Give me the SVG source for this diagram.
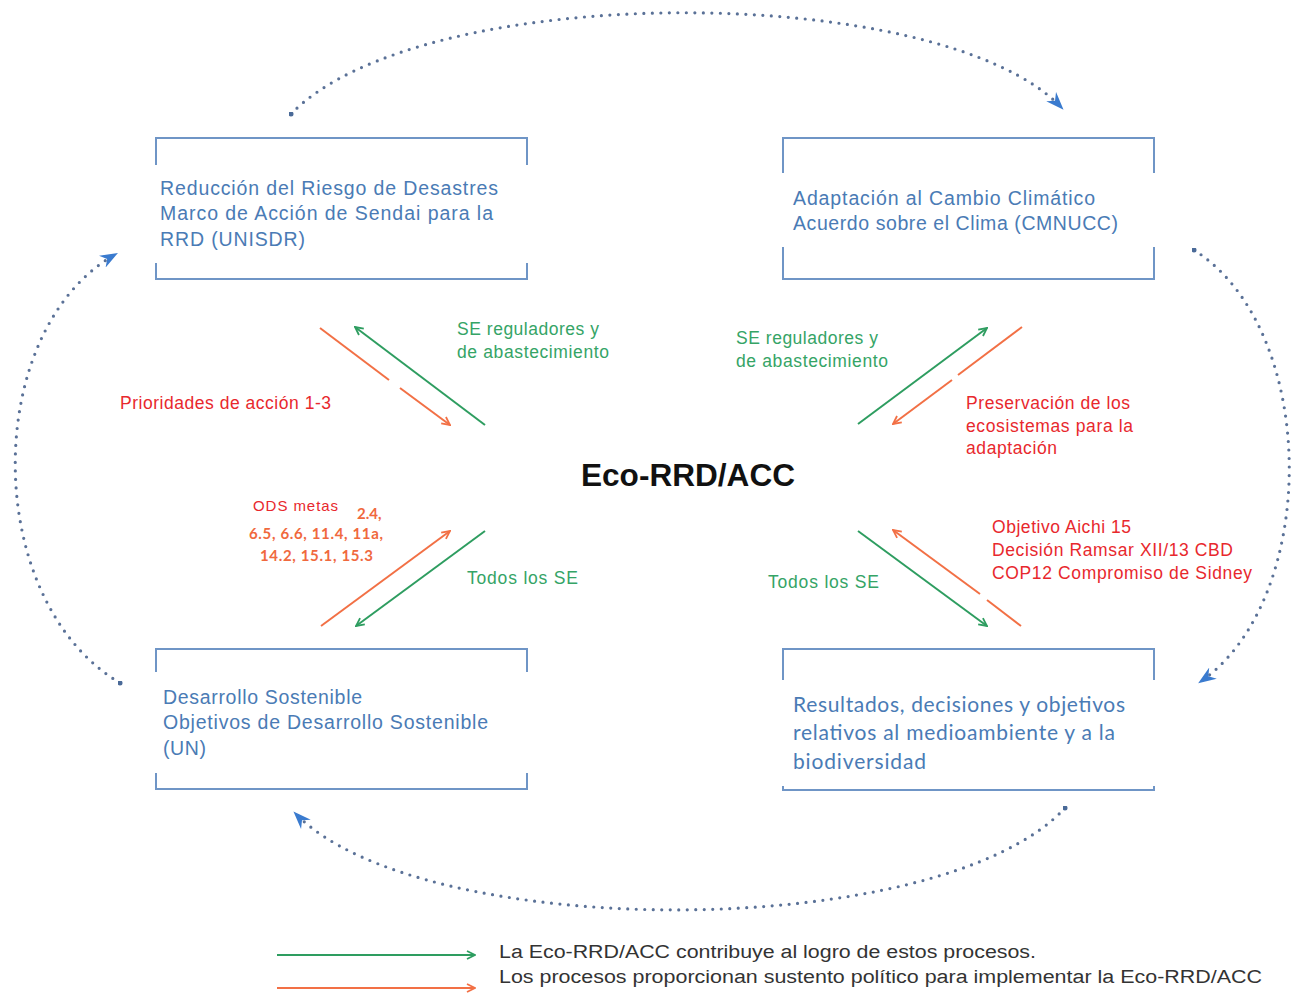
<svg xmlns="http://www.w3.org/2000/svg" width="1291" height="995" viewBox="0 0 1291 995">
<style>
.box{fill:none;stroke:#6f95c6;stroke-width:2}
.bt{font-family:"Liberation Sans",Arial,sans-serif;font-size:19.5px;fill:#4a7bb5}
.bt2{font-family:Lato,"Open Sans",sans-serif;font-size:21px;fill:#4a7bb5}
.gt{font-family:"Liberation Sans",Arial,sans-serif;font-size:17.5px;fill:#35a466}
.rt{font-family:"Liberation Sans",Arial,sans-serif;font-size:17.5px;fill:#e8282d}
.ot{font-family:Lato,"Open Sans",sans-serif;font-size:15px;font-weight:bold;fill:#f0693e}
.lt{font-family:"Liberation Sans",Arial,sans-serif;font-size:18px;fill:#333}
.g{stroke:#2e9d60;stroke-width:2;fill:none}
.o{stroke:#f27045;stroke-width:2;fill:none}
.dot{fill:none;stroke:#5a7197;stroke-width:3.2;stroke-linecap:round;stroke-dasharray:0 8.5}
</style>
<defs>
<marker id="mg" viewBox="0 0 10 10" refX="9" refY="5" markerWidth="10" markerHeight="10" markerUnits="userSpaceOnUse" orient="auto">
<path d="M1,1 L9,5 L1,9" fill="none" stroke="#2e9d60" stroke-width="1.8"/>
</marker>
<marker id="mo" viewBox="0 0 10 10" refX="9" refY="5" markerWidth="10" markerHeight="10" markerUnits="userSpaceOnUse" orient="auto">
<path d="M1,1 L9,5 L1,9" fill="none" stroke="#f27045" stroke-width="1.8"/>
</marker>
<marker id="mb" viewBox="0 0 16 12" refX="14" refY="6" markerWidth="18" markerHeight="14" markerUnits="userSpaceOnUse" orient="auto">
<path d="M0,0 L16,6 L0,12 L5,6 Z" fill="#3a7bcf"/>
</marker>
<marker id="ms" viewBox="0 0 6 6" refX="3" refY="3" markerWidth="5" markerHeight="5" markerUnits="userSpaceOnUse">
<circle cx="3" cy="3" r="3" fill="#4a6a98"/>
</marker>
</defs>
<rect width="1291" height="995" fill="#fff"/>

<g id="cycle">
<path class="dot" d="M291,114 C420,-20 940,-20 1062,108" marker-start="url(#ms)" marker-end="url(#mb)"/>
<path class="dot" d="M1194,250 C1320,330 1320,600 1200,682" marker-start="url(#ms)" marker-end="url(#mb)"/>
<path class="dot" d="M1065,808 C940,943 420,943 295,813" marker-start="url(#ms)" marker-end="url(#mb)"/>
<path class="dot" d="M120,683 C-19,600 -19,330 116,254" marker-start="url(#ms)" marker-end="url(#mb)"/>
</g>

<g id="node-rrd">
<path class="box" d="M156,165 V138 H527 V165 M156,263 V279 H527 V263"/>
<text class="bt" x="160" y="195" textLength="338" lengthAdjust="spacing">Reducción del Riesgo de Desastres</text>
<text class="bt" x="160" y="220" textLength="333" lengthAdjust="spacing">Marco de Acción de Sendai para la</text>
<text class="bt" x="160" y="246" textLength="145" lengthAdjust="spacing">RRD (UNISDR)</text>
</g>

<g id="node-acc">
<path class="box" d="M783,173 V138 H1154 V173 M783,247 V279 H1154 V247"/>
<text class="bt" x="793" y="205" textLength="302" lengthAdjust="spacing">Adaptación al Cambio Climático</text>
<text class="bt" x="793" y="230" textLength="325" lengthAdjust="spacing">Acuerdo sobre el Clima (CMNUCC)</text>
</g>

<g id="node-ods">
<path class="box" d="M156,672 V649 H527 V672 M156,773 V789 H527 V773"/>
<text class="bt" x="163" y="704" textLength="199" lengthAdjust="spacing">Desarrollo Sostenible</text>
<text class="bt" x="163" y="729" textLength="325" lengthAdjust="spacing">Objetivos de Desarrollo Sostenible</text>
<text class="bt" x="163" y="755" textLength="43" lengthAdjust="spacing">(UN)</text>
</g>

<g id="node-bio">
<path class="box" d="M783,680 V649 H1154 V680 M783,786 V790 H1154 V786"/>
<text class="bt2" x="793" y="712" textLength="332" lengthAdjust="spacing">Resultados, decisiones y objetivos</text>
<text class="bt2" x="793" y="740" textLength="322" lengthAdjust="spacing">relativos al medioambiente y a la</text>
<text class="bt2" x="793" y="769" textLength="133" lengthAdjust="spacing">biodiversidad</text>
</g>

<g id="node-center">
<text x="581" y="486" font-family="'Liberation Sans',Arial,sans-serif" font-size="31" font-weight="bold" fill="#111" textLength="214" lengthAdjust="spacingAndGlyphs">Eco-RRD/ACC</text>
</g>

<g id="connectors">
<path class="o" d="M320,328 L389,380"/>
<path class="o" d="M400,388 L450,425" marker-end="url(#mo)"/>
<path class="g" d="M485,425 L355,327" marker-end="url(#mg)"/>

<path class="g" d="M858,424 L987,328" marker-end="url(#mg)"/>
<path class="o" d="M1022,327 L958,375"/>
<path class="o" d="M952,380 L893,424" marker-end="url(#mo)"/>

<path class="o" d="M321,626 L450,531" marker-end="url(#mo)"/>
<path class="g" d="M485,531 L356,626" marker-end="url(#mg)"/>

<path class="g" d="M858,531 L987,626" marker-end="url(#mg)"/>
<path class="o" d="M1021,626 L987,600"/>
<path class="o" d="M980,594 L893,530" marker-end="url(#mo)"/>
</g>

<g id="labels">
<text class="gt" x="457" y="335" textLength="142" lengthAdjust="spacing">SE reguladores y</text>
<text class="gt" x="457" y="358" textLength="152" lengthAdjust="spacing">de abastecimiento</text>
<text class="rt" x="120" y="409" textLength="211" lengthAdjust="spacing">Prioridades de acción 1-3</text>

<text class="gt" x="736" y="344" textLength="142" lengthAdjust="spacing">SE reguladores y</text>
<text class="gt" x="736" y="367" textLength="152" lengthAdjust="spacing">de abastecimiento</text>
<text class="rt" x="966" y="409" textLength="164" lengthAdjust="spacing">Preservación de los</text>
<text class="rt" x="966" y="432" textLength="167" lengthAdjust="spacing">ecosistemas para la</text>
<text class="rt" x="966" y="454" textLength="91" lengthAdjust="spacing">adaptación</text>

<text x="253" y="511" font-family="'Liberation Sans',Arial,sans-serif" font-size="15" fill="#e8282d" textLength="85" lengthAdjust="spacing">ODS metas</text>
<text class="ot" x="357" y="519">2.4,</text>
<text class="ot" x="249" y="539" textLength="134" lengthAdjust="spacing">6.5, 6.6, 11.4, 11a,</text>
<text class="ot" x="260" y="561" textLength="113" lengthAdjust="spacing">14.2, 15.1, 15.3</text>
<text class="gt" x="467" y="584" textLength="111" lengthAdjust="spacing">Todos los SE</text>

<text class="gt" x="768" y="588" textLength="111" lengthAdjust="spacing">Todos los SE</text>
<text class="rt" x="992" y="533" textLength="139" lengthAdjust="spacing">Objetivo Aichi 15</text>
<text class="rt" x="992" y="556" textLength="241" lengthAdjust="spacing">Decisión Ramsar XII/13  CBD</text>
<text class="rt" x="992" y="579" textLength="260" lengthAdjust="spacing">COP12 Compromiso de Sidney</text>
</g>

<g id="legend">
<path class="g" d="M277,955 L475,955" marker-end="url(#mg)"/>
<path class="o" d="M277,988 L475,988" marker-end="url(#mo)"/>
<text class="lt" x="499" y="958" textLength="537" lengthAdjust="spacingAndGlyphs">La Eco-RRD/ACC contribuye al logro de estos procesos.</text>
<text class="lt" x="499" y="983" textLength="763" lengthAdjust="spacingAndGlyphs">Los procesos proporcionan sustento político para implementar  la Eco-RRD/ACC</text>
</g>
</svg>
